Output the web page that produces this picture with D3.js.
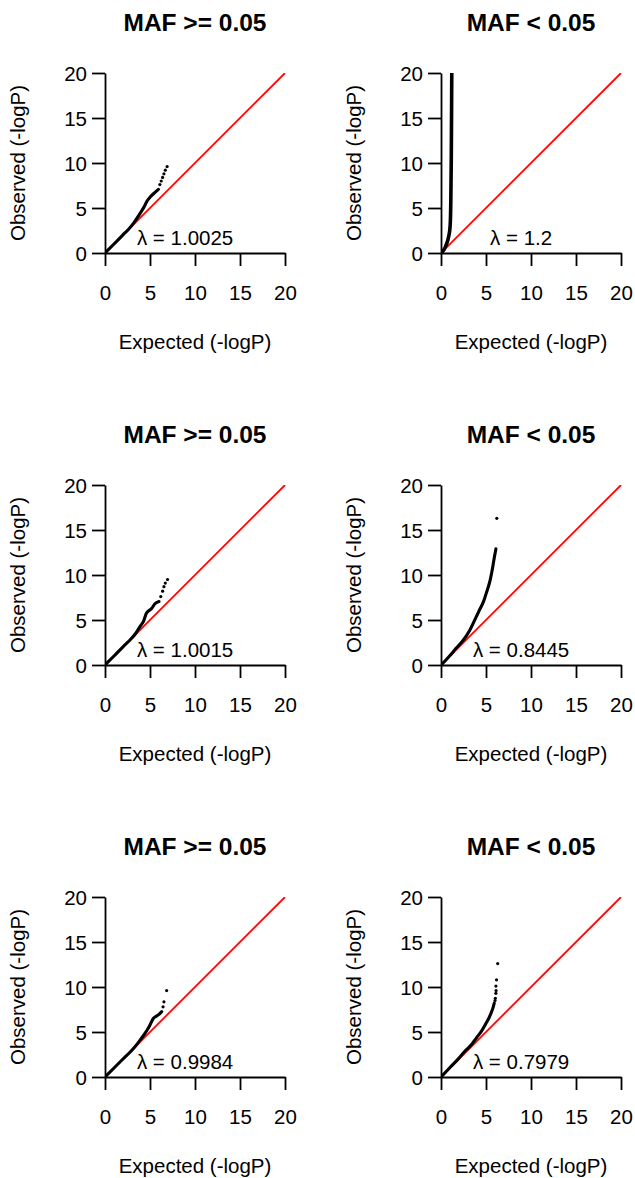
<!DOCTYPE html>
<html>
<head>
<meta charset="utf-8">
<script src="https://cdn.jsdelivr.net/npm/d3@7"></script>
<style>
  html, body { margin: 0; padding: 0; background: #fff; }
  svg { display: block; font-family: "Liberation Sans", Arial, Helvetica, sans-serif; }
</style>
</head>
<body>
<svg id="chart" width="635" height="1178"></svg>
<script>
// ---- data ----
const panelTitles = ["MAF >= 0.05", "MAF < 0.05", "MAF >= 0.05", "MAF < 0.05", "MAF >= 0.05", "MAF < 0.05"];
const lambdaValues = ["1.0025", "1.2", "1.0015", "0.8445", "0.9984", "0.7979"];
const tickValues = [0, 5, 10, 15, 20];
const axisDomain = [0, 20];
const xLabel = "Expected (-logP)";
const yLabel = "Observed (-logP)";

// dense part of each QQ cloud: [expected, observed]
const body1 = [[0,0],[1,1.0],[2,2.02],[2.6,2.62],[3.2,3.35],[3.9,4.4],[4.44,5.3],[4.63,5.7],[5.0,6.2],[5.56,6.74],[5.93,7.07]];
const tail1 = [[6.1,7.6],[6.25,8.0],[6.4,8.4],[6.55,8.8],[6.7,9.2],[6.9,9.6]];
const body2 = [[0,0],[0.3,0.32],[0.56,0.86],[0.75,1.4],[0.87,1.9],[0.97,2.5],[1.02,3.1],[1.07,4.6],[1.1,6.6],[1.14,10.3],[1.17,15],[1.2,20.5]];
const tail2 = [];
const body3 = [[0,0],[1,1.0],[2,2.02],[2.78,2.78],[3.4,3.5],[3.9,4.3],[4.3,4.9],[4.6,5.75],[5.2,6.3],[5.55,6.8],[6.0,7.05]];
const tail3 = [[6.2,7.6],[6.4,8.2],[6.55,8.7],[6.7,9.1],[6.95,9.5]];
const body4 = [[0,0],[0.5,0.5],[1.0,1.05],[1.67,1.85],[2.4,2.67],[3.15,3.78],[3.7,4.9],[4.2,5.95],[4.74,7.1],[5.1,8.2],[5.35,9.0],[5.5,9.6],[5.62,10.2],[5.75,10.9],[5.85,11.5],[5.95,12.1],[6.05,12.6],[6.1,12.9]];
const tail4 = [[6.2,16.3]];
const body5 = [[0,0],[1,1.0],[2,2.0],[2.78,2.75],[3.4,3.45],[3.9,4.1],[4.44,4.85],[4.7,5.25],[5.0,5.78],[5.2,6.2],[5.37,6.5],[5.6,6.7],[5.93,6.9],[6.3,7.26]];
const tail5 = [[6.45,7.8],[6.55,8.35],[6.85,9.6]];
const body6 = [[0,0],[1,1.05],[2,2.1],[2.78,3.0],[3.4,3.6],[3.9,4.3],[4.5,5.1],[5.0,5.96],[5.3,6.5],[5.55,7.07],[5.75,7.6],[5.92,8.2]];
const tail6 = [[6.0,8.5],[6.04,8.75],[6.1,9.3],[6.12,9.6],[6.1,10.1],[6.17,10.8],[6.3,12.6]];

const bodies = [body1, body2, body3, body4, body5, body6];
const tails = [tail1, tail2, tail3, tail4, tail5, tail6];
const lambdaPos = [8.9, 1.7];

// ---- layout ----
const colX = [105, 441];
const rowTop = [73, 485, 897];
const size = 180;
const fs = 20.5;

const svg = d3.select("#chart");
svg.append("rect").attr("width", 635).attr("height", 1178).attr("fill", "#fff");

panelTitles.forEach((title, i) => {
  const x0 = colX[i % 2];
  const top = rowTop[Math.floor(i / 2)];
  const x = d3.scaleLinear().domain(axisDomain).range([x0, x0 + size]);
  const y = d3.scaleLinear().domain(axisDomain).range([top + size, top]);
  const g = svg.append("g");

  const clipId = "clip" + i;
  svg.append("clipPath").attr("id", clipId)
    .append("rect").attr("x", x0).attr("y", top).attr("width", size + 1).attr("height", size);

  // title
  g.append("text")
    .attr("x", (x.range()[0] + x.range()[1]) / 2)
    .attr("y", top - 42)
    .attr("text-anchor", "middle")
    .attr("font-weight", "bold")
    .attr("font-size", 24.5)
    .text(title);

  // red identity line
  const dg = g.append("g").attr("clip-path", `url(#${clipId})`);
  dg.append("line")
    .attr("x1", x(0)).attr("y1", y(0)).attr("x2", x(20)).attr("y2", y(20))
    .attr("stroke", "#ff0000").attr("stroke-width", 1.8);

  // dense body of the cloud
  const line = d3.line().x(d => x(d[0])).y(d => y(d[1])).curve(d3.curveMonotoneX);
  const lineY = d3.line().x(d => x(d[0])).y(d => y(d[1])).curve(d3.curveMonotoneY);
  dg.append("path")
    .datum(bodies[i])
    .attr("d", i === 1 ? lineY : line)
    .attr("fill", "none").attr("stroke", "#000")
    .attr("stroke-width", i === 1 ? 3.6 : 3.1)
    .attr("stroke-linecap", "round").attr("stroke-linejoin", "round");
  dg.selectAll("circle.t").data(tails[i]).enter().append("circle")
    .attr("cx", d => x(d[0])).attr("cy", d => y(d[1])).attr("r", 1.6).attr("fill", "#000");

  // axes
  const xa = g.append("g").attr("transform", `translate(0,${top + size})`)
    .call(d3.axisBottom(x).tickValues(tickValues).tickSize(13).tickSizeOuter(0).tickFormat(d3.format("d")));
  const ya = g.append("g").attr("transform", `translate(${x0},0)`)
    .call(d3.axisLeft(y).tickValues(tickValues).tickSize(13).tickSizeOuter(0).tickFormat(d3.format("d")));
  [xa, ya].forEach(a => {
    a.selectAll("path.domain").attr("stroke", "#000").attr("stroke-width", 1.8);
    a.selectAll(".tick line").attr("stroke", "#000").attr("stroke-width", 1.8);
    a.selectAll(".tick text").attr("fill", "#000").attr("font-size", fs)
      .attr("font-family", '"Liberation Sans", Arial, sans-serif');
  });
  xa.selectAll(".tick text").attr("y", 40).attr("dy", "0.35em");
  ya.selectAll(".tick text").attr("x", -18).attr("dy", "0.35em");

  // axis titles
  g.append("text")
    .attr("x", (x.range()[0] + x.range()[1]) / 2)
    .attr("y", top + size + 89)
    .attr("dy", "0.35em")
    .attr("text-anchor", "middle")
    .attr("font-size", fs)
    .text(xLabel);
  g.append("text")
    .attr("transform", `translate(${x0 - 87},${top + size / 2}) rotate(-90)`)
    .attr("dy", "0.35em")
    .attr("text-anchor", "middle")
    .attr("font-size", fs)
    .text(yLabel);

  // lambda annotation
  g.append("text")
    .attr("x", x(lambdaPos[0]))
    .attr("y", y(lambdaPos[1]))
    .attr("dy", "0.35em")
    .attr("text-anchor", "middle")
    .attr("font-size", fs)
    .text("λ = " + lambdaValues[i]);
});
</script>
</body>
</html>
